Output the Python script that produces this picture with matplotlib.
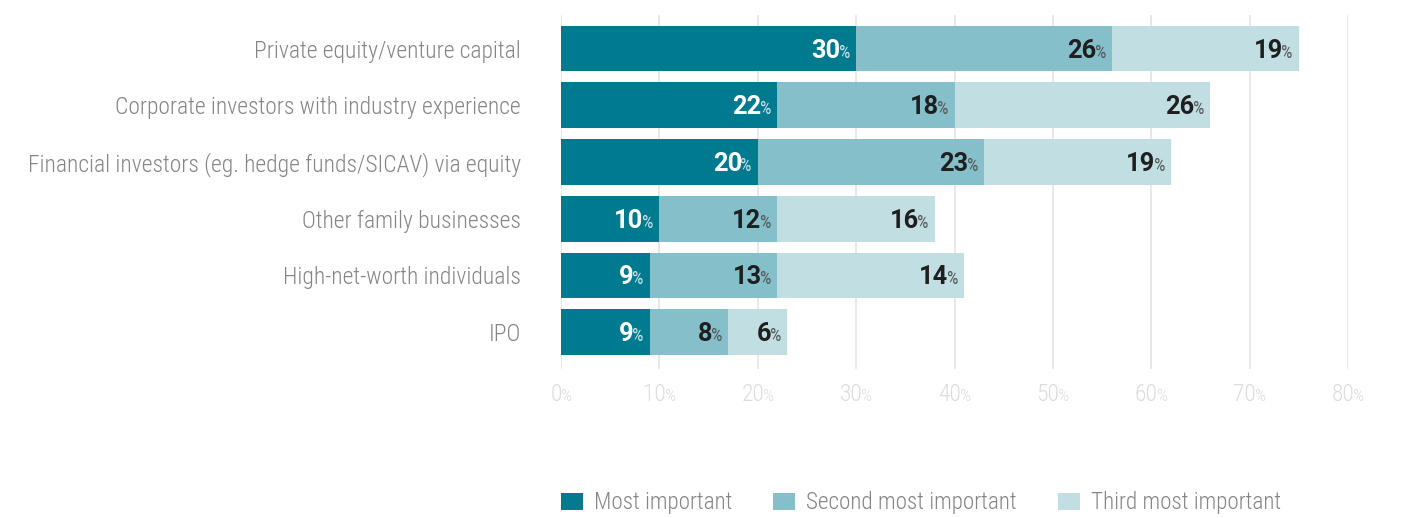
import matplotlib
matplotlib.use("Agg")
import matplotlib.pyplot as plt
from matplotlib import font_manager
from matplotlib.patches import Patch

# ---------------- data ----------------
categories = [
    "Private equity/venture capital",
    "Corporate investors with industry experience",
    "Financial investors (eg. hedge funds/SICAV) via equity",
    "Other family businesses",
    "High-net-worth individuals",
    "IPO",
]
most_important = [30, 22, 20, 10, 9, 9]
second_most = [26, 18, 23, 12, 13, 8]
third_most = [19, 26, 19, 16, 19, 6]          # drawn segment lengths
third_labels = ["19", "26", "19", "16", "14", "6"]  # printed labels
series_names = ["Most important", "Second most important", "Third most important"]
x_ticks = [0, 10, 20, 30, 40, 50, 60, 70, 80]

# ---------------- style ----------------
colors = ["#007a8f", "#84bfca", "#c1dfe3"]
avail = {f.name for f in font_manager.fontManager.ttflist}
family = "DejaVu Sans"
for cand in ["Roboto Condensed", "Liberation Sans Narrow", "DejaVu Sans Condensed", "Roboto"]:
    if cand in avail:
        family = cand
        break
numfamily = "Roboto" if "Roboto" in avail else family
plt.rcParams["font.family"] = [family, "DejaVu Sans"]

FS = 16.9
LIGHT = "light"
W, H = 1405, 518
fig = plt.figure(figsize=(W / 100, H / 100), dpi=100)
ax = fig.add_axes([561 / W, 1 - 369 / H, (1348 - 561) / W, (369 - 15) / H])

ypos = list(range(len(categories)))
lefts = [0] * len(categories)
series = [most_important, second_most, third_most]
for vals, col in zip(series, colors):
    ax.barh(ypos, vals, left=lefts, height=0.806, color=col, zorder=2, linewidth=0)
    lefts = [l + v for l, v in zip(lefts, vals)]

ax.set_xlim(0, 80)
ax.set_ylim(5.65, -0.593)
ax.set_xticks(x_ticks)
ax.xaxis.grid(True, color="#e6e6e6", linewidth=1.3, zorder=0)
ax.set_axisbelow(True)
ax.tick_params(axis="x", length=0, labelbottom=False)
ax.tick_params(axis="y", length=0, pad=28.8)
ax.set_yticks(ypos)
ax.set_yticklabels(categories, fontsize=FS, color="#858585", fontweight=LIGHT)
for s in ax.spines.values():
    s.set_visible(False)

renderer = fig.canvas.get_renderer()


def text_width(s, size, weight, fam):
    t = fig.text(0, 0, s, fontsize=size, fontweight=weight, family=fam)
    w = t.get_window_extent(renderer).width
    t.remove()
    return w


def two_part(x, y, num, numcol, pctcol, weight, pctweight, align, dy_px,
             numsize, pctsize, trans="data", gap=-2.5, numfam=None, pad=-6):
    numfam = numfam or family
    w_pct = text_width("%", pctsize, pctweight, family)
    w_num = text_width(num, numsize, weight, numfam)
    if align == "right":
        right = pad
    else:
        right = (w_num + w_pct + gap) / 2
    ax.annotate("%", (x, y), xycoords=trans, xytext=(right, dy_px),
                textcoords="offset pixels", ha="right", va="baseline",
                fontsize=pctsize, fontweight=pctweight, color=pctcol, zorder=5,
                annotation_clip=False, family=family)
    ax.annotate(num, (x, y), xycoords=trans, xytext=(right - w_pct - gap, dy_px),
                textcoords="offset pixels", ha="right", va="baseline",
                fontsize=numsize, fontweight=weight, color=numcol, zorder=5,
                annotation_clip=False, family=numfam)


# value labels
label_sets = [[str(v) for v in most_important], [str(v) for v in second_most], third_labels]
lefts = [0] * len(categories)
for k, (vals, labs) in enumerate(zip(series, label_sets)):
    for i, (v, lab) in enumerate(zip(vals, labs)):
        end = lefts[i] + v
        if k == 0:
            two_part(end, i, lab, "white", "#cde5ea", "bold", "normal", "right", -9,
                     18.3, 13, gap=-1.5, numfam=numfamily)
        else:
            two_part(end, i, lab, "#1f1f1f", "#555555", "bold", "normal", "right", -9,
                     18.3, 13, gap=-1.5, numfam=numfamily)
    lefts = [l + v for l, v in zip(lefts, vals)]

# x tick labels (baseline ~401 px from top of figure)
xt = ax.get_xaxis_transform()
ybase = -(401 - 369) / (369 - 15)
for t in x_ticks:
    two_part(t, ybase, str(t), "#dcdcdc", "#dcdcdc", LIGHT, LIGHT, "center", 0,
             FS, 12.5, trans=xt, gap=-1)

# legend
handles = [Patch(facecolor=c, edgecolor="none") for c in colors]
leg = fig.legend(handles, series_names, loc="center left",
                 bbox_to_anchor=(561 / W, 1 - 503 / H), ncol=3, frameon=False,
                 prop={"size": 16.7, "weight": LIGHT}, handlelength=0.95, handleheight=0.8,
                 handletextpad=0.47, columnspacing=1.77, borderpad=0, borderaxespad=0)
for txt in leg.get_texts():
    txt.set_color("#858585")

fig.savefig("out.png", dpi=100)
